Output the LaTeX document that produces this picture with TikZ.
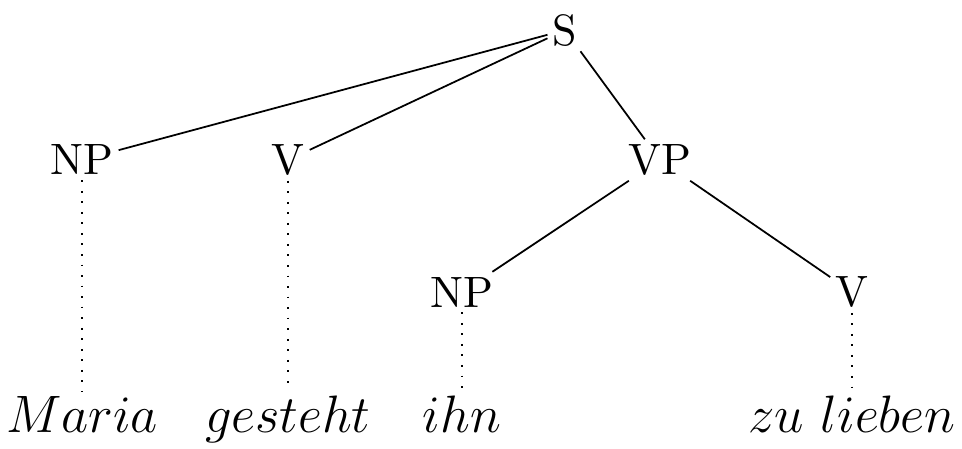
\documentclass[tikz,border=0pt]{standalone}
\begin{document}
\begin{tikzpicture}[cat/.style={inner sep=1pt},
  word/.style={anchor=base,inner sep=1pt,font=\large}]
\useasboundingbox (0,0) rectangle (7.702,3.587);
\node[cat] (s) at (4.523,3.346) {S};
\node[cat] (np1) at (0.656,2.306) {NP};
\node[cat] (v1) at (2.306,2.306) {V};
\node[cat] (vp) at (5.284,2.306) {VP};
\node[cat] (np2) at (3.699,1.249) {NP};
\node[cat] (v2) at (6.821,1.249) {V};
\node[word] (maria) at (0.656,0.125) {$Maria$};
\node[word] (gesteht) at (2.306,0.125) {$gesteht$};
\node[word] (ihn) at (3.699,0.125) {$ihn$};
\node[word] (lieben) at (6.821,0.125) {$zu\ lieben$};
\draw (s) -- (np1);
\draw (s) -- (v1);
\draw (s) -- (vp);
\draw (vp) -- (np2);
\draw (vp) -- (v2);
\draw[dotted] (np1) -- (maria);
\draw[dotted] (v1) -- (gesteht);
\draw[dotted] (np2) -- (ihn);
\draw[dotted] (v2) -- (lieben);
\end{tikzpicture}
\end{document}
